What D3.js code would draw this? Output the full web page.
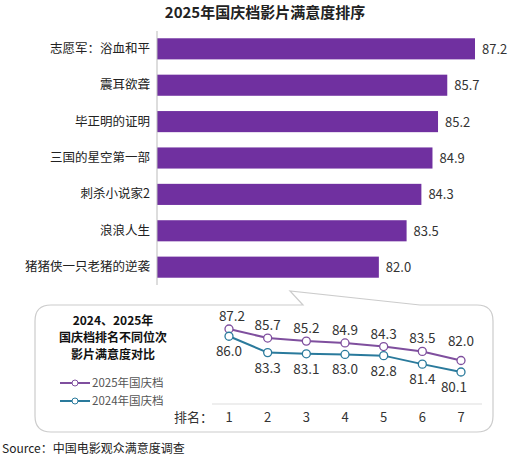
<!DOCTYPE html><html><head><meta charset="utf-8"><script src="https://cdn.jsdelivr.net/npm/d3@7"></script>
<style>body{margin:0;background:#fff}text{font-family:"Microsoft YaHei","Noto Sans CJK SC",sans-serif}</style></head><body>
<svg id="c" width="530" height="460"></svg>
<script>
const films=["志愿军：浴血和平","震耳欲聋","毕正明的证明","三国的星空第一部","刺杀小说家2","浪浪人生","猪猪侠一只老猪的逆袭"];
const scores=[87.2,85.7,85.2,84.9,84.3,83.5,82.0];
const ranks=[1,2,3,4,5,6,7];
const s2025=[87.2,85.7,85.2,84.9,84.3,83.5,82.0];
const s2024=[86.0,83.3,83.1,83.0,82.8,81.4,80.1];
const svg=d3.select("#c");
const P="#7030a0",L25="#7f4f9e",L24="#2a7a9c";
svg.append("text").attr("x",265).attr("y",18).attr("text-anchor","middle").attr("font-size",15).attr("font-weight","bold").attr("fill","#222").text("2025年国庆档影片满意度排序");
const x=d3.scaleLinear().domain([70,87.2]).range([157,475]);
const y=d3.scaleBand().domain(films).range([31,285]).paddingInner(0.42).paddingOuter(0.2);
svg.selectAll("rect.b").data(films).join("rect").attr("x",x(70)).attr("y",d=>y(d)).attr("height",y.bandwidth()).attr("width",(d,i)=>x(scores[i])-x(70)).attr("fill",P);
svg.append("line").attr("x1",157).attr("x2",157).attr("y1",31).attr("y2",285).attr("stroke","#bbb");
svg.selectAll("text.l").data(films).join("text").attr("x",150).attr("y",d=>y(d)+y.bandwidth()/2+4).attr("text-anchor","end").attr("font-size",12.5).attr("fill","#222").text(d=>d);
svg.selectAll("text.v").data(films).join("text").attr("x",(d,i)=>x(scores[i])+7).attr("y",d=>y(d)+y.bandwidth()/2+5).attr("font-size",13).attr("fill","#333").text((d,i)=>scores[i].toFixed(1));
const bx=35,by=305,bw=458,bh=127,r=16;
const path=`M${bx+r},${by} L303,${by} L290,291 L420,${by} L${bx+bw-r},${by} Q${bx+bw},${by} ${bx+bw},${by+r} L${bx+bw},${by+bh-r} Q${bx+bw},${by+bh} ${bx+bw-r},${by+bh} L${bx+r},${by+bh} Q${bx},${by+bh} ${bx},${by+bh-r} L${bx},${by+r} Q${bx},${by} ${bx+r},${by} Z`;
svg.append("path").attr("d",path).attr("fill","#fff").attr("stroke","#ccc").attr("stroke-width",1.2);
["2024、2025年","国庆档排名不同位次","影片满意度对比"].forEach((t,i)=>svg.append("text").attr("x",113).attr("y",325+i*17).attr("text-anchor","middle").attr("font-size",12).attr("font-weight","bold").attr("fill","#111").text(t));
const lx=d3.scalePoint().domain(ranks).range([229,461]);
const ly=d3.scaleLinear().domain([80.1,87.2]).range([372,329]);
svg.append("line").attr("x1",212).attr("x2",482).attr("y1",404).attr("y2",404).attr("stroke","#ddd");
svg.selectAll("text.t").data(ranks).join("text").attr("x",d=>lx(d)).attr("y",422).attr("text-anchor","middle").attr("font-size",13).attr("fill","#333").text(d=>d);
svg.append("text").attr("x",213).attr("y",422).attr("text-anchor","end").attr("font-size",13).attr("fill","#333").text("排名：");
const line=d3.line().x((d,i)=>lx(ranks[i])).y(d=>ly(d));
[[s2025,L25],[s2024,L24]].forEach(([s,c])=>{
 svg.append("path").attr("d",line(s)).attr("fill","none").attr("stroke",c).attr("stroke-width",2);
 svg.selectAll(null).data(s).join("circle").attr("cx",(d,i)=>lx(ranks[i])).attr("cy",d=>ly(d)).attr("r",4).attr("fill","#fff").attr("stroke",c).attr("stroke-width",1.3);
});
svg.selectAll(null).data(s2025).join("text").attr("x",(d,i)=>lx(ranks[i])+(i==0?3:0)).attr("y",(d,i)=>i==6?ly(d)-14:ly(d)-8).attr("text-anchor","middle").attr("font-size",13.5).attr("fill","#333").text(d=>d.toFixed(1));
svg.selectAll(null).data(s2024).join("text").attr("x",(d,i)=>lx(ranks[i])+(i==6?-7:0)).attr("y",d=>ly(d)+20).attr("text-anchor","middle").attr("font-size",13.5).attr("fill","#333").text(d=>d.toFixed(1));
[["2025年国庆档",L25,383],["2024年国庆档",L24,401]].forEach(([t,c,yy])=>{
 svg.append("line").attr("x1",60).attr("x2",90).attr("y1",yy).attr("y2",yy).attr("stroke",c).attr("stroke-width",2);
 svg.append("circle").attr("cx",75).attr("cy",yy).attr("r",3).attr("fill","#fff").attr("stroke",c);
 svg.append("text").attr("x",92).attr("y",yy+4).attr("font-size",11.5).attr("fill","#555").text(t);
});
svg.append("text").attr("x",2).attr("y",453).attr("font-size",12).attr("fill","#222").text("Source：中国电影观众满意度调查");
</script></body></html>
